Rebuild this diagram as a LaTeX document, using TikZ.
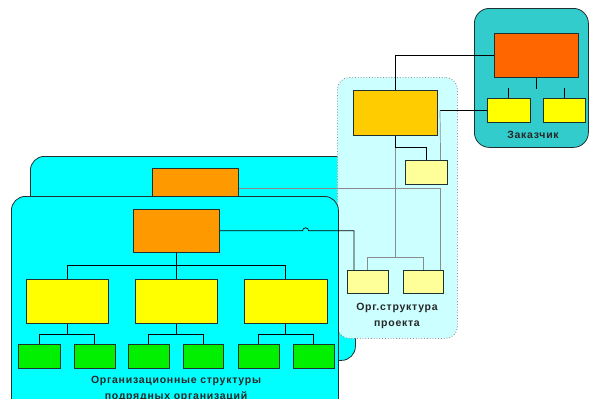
\documentclass[tikz,border=0pt]{standalone}
\usepackage{fontspec}
\setmainfont{Liberation Sans}
\definecolor{zakfill}{RGB}{51,204,204}
\definecolor{projfill}{RGB}{204,255,255}
\definecolor{cyanfill}{RGB}{0,255,255}
\definecolor{redbox}{RGB}{255,102,0}
\definecolor{goldbox}{RGB}{255,204,0}
\definecolor{orangebox}{RGB}{255,153,0}
\definecolor{yellowbox}{RGB}{255,255,0}
\definecolor{paleyellow}{RGB}{255,255,153}
\definecolor{greenbox}{RGB}{0,240,0}
\definecolor{edge}{RGB}{30,50,50}
\begin{document}
\begin{tikzpicture}[x=1pt,y=-1pt,
  panel/.style={draw=edge, line width=0.8pt, rounded corners=14pt, anchor=north west, inner sep=0pt},
  box/.style={draw=edge, line width=0.6pt, anchor=north west, inner sep=0pt},
  link/.style={draw=black, line width=0.7pt},
  greylink/.style={draw=black!45, line width=0.7pt},
  caption/.style={font=\fontsize{10.5}{15.5}\selectfont\bfseries\addfontfeature{LetterSpace=7},
                  text=black!85, align=center, inner sep=0pt}]
\useasboundingbox (0,0) rectangle (592,399);
\clip (0,0) rectangle (592,399);

% rear contractor panel
\node[panel, fill=cyanfill, minimum width=325pt, minimum height=204pt] (bp) at (30,156) {};
\node[box, fill=orangebox, minimum width=86pt, minimum height=40pt] (bo) at (152,168) {};

% project structure panel
\node[panel, draw=black!45, dotted, line width=0.9pt, fill=projfill, rounded corners=12pt,
      minimum width=120pt, minimum height=261pt] (pp) at (337,77) {};
\node[box, fill=goldbox, minimum width=84pt, minimum height=45pt] (gb) at (353,90) {};
\node[box, fill=paleyellow, minimum width=42pt, minimum height=24pt] (ps) at (405,160) {};
\node[box, fill=paleyellow, minimum width=41pt, minimum height=23pt] (pl) at (347,270) {};
\node[box, fill=paleyellow, minimum width=40pt, minimum height=23pt] (pr) at (403,270) {};
\node[caption] (pcap) at (397,316) {Орг.структура\\проекта};

% rear orange box to the project panel
\draw[greylink] (bo.east) -| ([xshift=-3pt]pr.north east);

% front contractor panel
\node[panel, fill=cyanfill, minimum width=327pt, minimum height=220pt] (fp) at (11,196) {};
\node[box, fill=orangebox, minimum width=86pt, minimum height=43pt] (fo) at (133,209) {};
\node[box, fill=yellowbox, minimum width=82pt, minimum height=44pt] (y1) at (26,279) {};
\node[box, fill=yellowbox, minimum width=82pt, minimum height=44pt] (y2) at (135,279) {};
\node[box, fill=yellowbox, minimum width=83pt, minimum height=44pt] (y3) at (244,279) {};
\node[box, fill=greenbox, minimum width=42pt, minimum height=24pt] (g1) at (18,344) {};
\node[box, fill=greenbox, minimum width=41pt, minimum height=24pt] (g2) at (74,344) {};
\node[box, fill=greenbox, minimum width=41pt, minimum height=24pt] (g3) at (128,344) {};
\node[box, fill=greenbox, minimum width=40pt, minimum height=24pt] (g4) at (183,344) {};
\node[box, fill=greenbox, minimum width=41pt, minimum height=24pt] (g5) at (238,344) {};
\node[box, fill=greenbox, minimum width=41pt, minimum height=24pt] (g6) at (293,344) {};
\node[caption] (fcap) at (176,389) {Организационные структуры\\подрядных организаций};

% tree inside the front panel
\draw[link] (fo.south) -- ++(0,13) coordinate (fsplit);
\draw[link] (y1.north) |- (fsplit) -| (y3.north);
\draw[link] (fsplit) -- (y2.north);
\draw[link] (y1.south) -- ++(0,11) coordinate (s1);
\draw[link] (g1.north) |- (s1) -| (g2.north);
\draw[link] (y2.south) -- ++(0,11) coordinate (s2);
\draw[link] (g3.north) |- (s2) -| (g4.north);
\draw[link] (y3.south) -- ++(0,11) coordinate (s3);
\draw[link] (g5.north) |- (s3) -| (g6.north);

% front orange box to the project panel, with a line hop
\draw[link] (fo.east) -- ++(83,0) arc[start angle=180, end angle=360, radius=3]
  -| ([xshift=7pt]pl.north west);

% tree inside the project panel
\draw[greylink] (gb.south) -- ++(0,122) coordinate (gsplit);
\draw[greylink] (pl.north) |- (gsplit) -| (pr.north);
\draw[link] (gb.south) -- ++(0,12) -| (ps.north);

% customer panel
\node[panel, fill=zakfill, rounded corners=15pt, minimum width=114pt, minimum height=139pt] (zp) at (474,8) {};
\node[box, fill=redbox, minimum width=84pt, minimum height=44pt] (zr) at (494,33) {};
\node[box, fill=yellowbox, minimum width=43pt, minimum height=24pt] (zy1) at (487,98) {};
\node[box, fill=yellowbox, minimum width=42pt, minimum height=24pt] (zy2) at (543,98) {};
\node[caption] (zcap) at (533,135) {Заказчик};
\draw[link] (zr.south) -- ++(0,11);
\draw[link] (zy1.north) -- ++(0,-10);
\draw[link] (zy2.north) -- ++(0,-10);

% links between the customer and the project
\draw[link, line width=1pt] (gb.north) |- (zr.west);
\draw[link] (zy1.west) -- ++(-47,0) coordinate (zturn);
\draw[greylink] (zturn) -- ([xshift=-7pt]ps.north east);
\end{tikzpicture}
\end{document}
